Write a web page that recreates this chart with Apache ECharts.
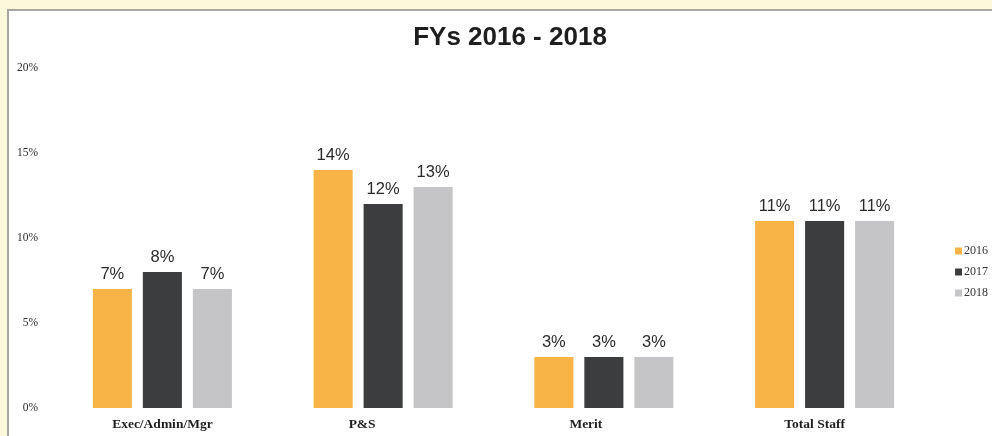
<!DOCTYPE html>
<html>
<head>
<meta charset="utf-8">
<script src="https://cdn.jsdelivr.net/npm/echarts@6/dist/echarts.min.js"></script>
<style>
  html, body { margin: 0; padding: 0; background: #fbf8db; }
  #main { width: 992px; height: 436px; }
</style>
</head>
<body>
<div id="main"></div>
<script>
// categories and values (percent)
const categories = ['Exec/Admin/Mgr', 'P&S', 'Merit', 'Total Staff'];
const years = ['2016', '2017', '2018'];
const fy2016 = [7, 14, 3, 11];
const fy2017 = [8, 12, 3, 11];
const fy2018 = [7, 13, 3, 11];
const yTicks = [0, 5, 10, 15, 20];

const colors = ['#f9b447', '#3c3d3f', '#c5c5c7'];
const values = [fy2016, fy2017, fy2018];
// in the original the category names sit a little left of their bar groups
const labelShift = [0, 21, 18, 10];

const myChart = echarts.init(document.getElementById('main'));

const series = years.map(function (y, i) {
  return {
    name: y,
    type: 'bar',
    barGap: '28%',
    barCategoryGap: '37%',
    itemStyle: { color: colors[i] },
    label: {
      show: true,
      position: 'top',
      distance: 6,
      formatter: '{c}%',
      fontFamily: 'Liberation Sans, Arial, sans-serif',
      fontSize: 16.5,
      color: '#2a2a2a'
    },
    data: values[i]
  };
});

const catRich = {};
labelShift.forEach(function (s, i) {
  catRich['c' + i] = {
    padding: [0, s * 2, 0, 0],
    fontFamily: 'Liberation Serif, serif',
    fontWeight: 'bold',
    fontSize: 13.5,
    color: '#1e1e1e'
  };
});

const option = {
  backgroundColor: 'transparent',
  animation: false,
  graphic: [{
    type: 'rect',
    z: -10,
    shape: { x: 8, y: 10, width: 1000, height: 440 },
    style: { fill: '#ffffff', stroke: '#a9a8a0', lineWidth: 2 }
  }],
  title: {
    text: 'FYs 2016 - 2018',
    left: 505,
    textAlign: 'center',
    top: 20,
    textStyle: {
      fontFamily: 'Liberation Sans, Arial, sans-serif',
      fontWeight: 'bold',
      fontSize: 26,
      color: '#1e1e1e'
    }
  },
  legend: {
    orient: 'vertical',
    left: 950,
    top: 240,
    itemWidth: 7,
    itemHeight: 7,
    itemGap: 9,
    icon: 'rect',
    data: years,
    textStyle: {
      fontFamily: 'Liberation Serif, serif',
      fontSize: 12,
      color: '#333',
      padding: [0, 0, 0, -3]
    }
  },
  grid: {
    left: 52,
    right: 57,
    top: 68,
    bottom: 28,
    containLabel: false
  },
  xAxis: {
    type: 'category',
    data: categories,
    axisLine: { show: false },
    axisTick: { show: false },
    axisLabel: {
      margin: 10,
      formatter: function (v, i) {
        return '{c' + i + '|' + v + '}';
      },
      rich: catRich
    }
  },
  yAxis: {
    type: 'value',
    min: yTicks[0],
    max: yTicks[yTicks.length - 1],
    interval: 5,
    splitLine: { show: false },
    axisLine: { show: false },
    axisTick: { show: false },
    axisLabel: {
      margin: 14,
      formatter: '{value}%',
      fontFamily: 'Liberation Serif, serif',
      fontSize: 11.5,
      color: '#2a2a2a'
    }
  },
  series: series
};

myChart.setOption(option);
</script>
</body>
</html>
